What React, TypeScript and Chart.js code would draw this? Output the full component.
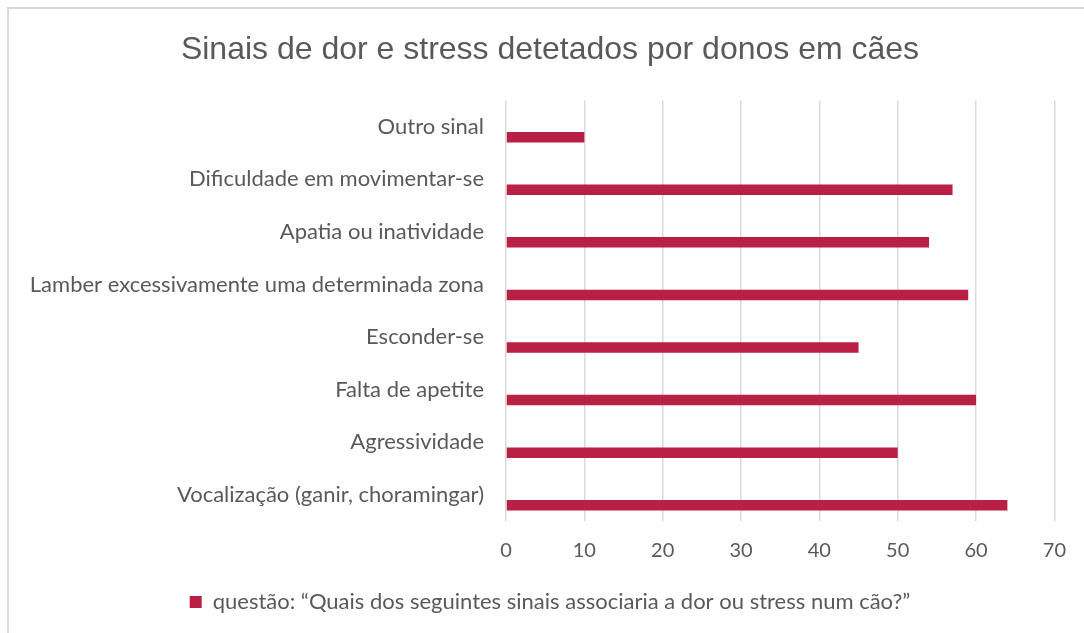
import React, { useEffect, useRef } from "react";
import { Chart, registerables } from "chart.js";

Chart.register(...registerables);

const categories = [
  "Outro sinal",
  "Dificuldade em movimentar-se",
  "Apatia ou inatividade",
  "Lamber excessivamente uma determinada zona",
  "Esconder-se",
  "Falta de apetite",
  "Agressividade",
  "Vocalização (ganir, choramingar)",
];
const values = [10, 57, 54, 59, 45, 60, 50, 64];
const emptySeries = [null, null, null, null, null, null, null, null];
const seriesLabel = "questão: “Quais dos seguintes sinais associaria a dor ou stress num cão?”";
const titleText = "Sinais de dor e stress detetados por donos em cães";

const TEXT = "#595959";
const BAR = "#BA1F45";
const GRID = "#d9d9d9";
const LABEL_FONT = "Lato, 'Open Sans', sans-serif";

export default function App() {
  const ref = useRef<HTMLCanvasElement | null>(null);
  useEffect(() => {
    if (!ref.current) return;
    const chart = new Chart(ref.current, {
      type: "bar",
      data: {
        labels: categories,
        datasets: [
          { label: "", data: emptySeries as any, backgroundColor: BAR },
          { label: seriesLabel, data: values, backgroundColor: BAR },
        ],
      },
      options: {
        indexAxis: "y",
        animation: false,
        responsive: false,
        maintainAspectRatio: false,
        layout: { padding: { left: 16, right: 0, top: 0, bottom: 10 } },
        datasets: { bar: { barPercentage: 0.5, categoryPercentage: 0.8 } },
        plugins: {
          title: {
            display: true,
            text: titleText,
            color: TEXT,
            font: { family: "'Liberation Sans', Arial, sans-serif", size: 32, weight: "normal" },
            padding: { top: 31, bottom: 31 },
          },
          legend: {
            display: true,
            position: "bottom",
            labels: {
              filter: (item: any) => item.datasetIndex === 1,
              color: TEXT,
              boxWidth: 12,
              boxHeight: 12,
              padding: 10,
              font: { family: LABEL_FONT, size: 22 },
            },
          },
          tooltip: { enabled: false },
        },
        scales: {
          x: {
            min: 0,
            max: 70,
            ticks: { stepSize: 10, color: TEXT, font: { family: LABEL_FONT, size: 20 }, padding: 18 },
            grid: { color: GRID, lineWidth: 1.5, drawTicks: false },
            border: { display: false },
            afterFit: (scale: any) => {
              scale.height = 60;
            },
          },
          y: {
            ticks: { color: TEXT, font: { family: LABEL_FONT, size: 22 }, padding: 14 },
            grid: { display: false },
            border: { display: false },
            afterFit: (scale: any) => {
              scale.width = 490;
            },
          },
          yPad: {
            type: "linear",
            axis: "y",
            position: "right",
            display: true,
            grid: { display: false },
            ticks: { display: false },
            border: { display: false },
            afterFit: (scale: any) => {
              scale.width = 29;
            },
          } as any,
        },
      },
    });
    return () => chart.destroy();
  }, []);
  return (
    <div style={{ position: "absolute", left: 0, top: 0, width: 1084, height: 633, overflow: "hidden", background: "#fff" }}>
      <div
        style={{
          position: "absolute",
          left: 7,
          top: 7,
          width: 1200,
          height: 800,
          borderLeft: "2px solid #d9d9d9",
          borderTop: "2px solid #d9d9d9",
        }}
      />
      <canvas ref={ref} width={1084} height={633} style={{ position: "absolute", left: 0, top: 0 }} />
    </div>
  );
}
